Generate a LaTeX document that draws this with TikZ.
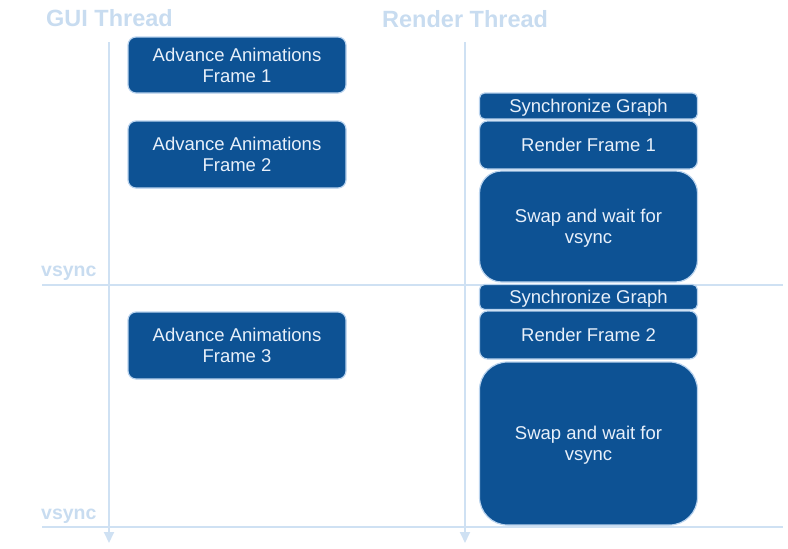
\documentclass[tikz,border=0pt]{standalone}
\usepackage{fontspec}
\setmainfont{Liberation Sans}
\usetikzlibrary{arrows.meta}
\definecolor{boxfill}{RGB}{13,82,148}
\definecolor{boxedge}{RGB}{185,211,238}
\definecolor{boxtext}{RGB}{232,240,250}
\definecolor{axiscol}{RGB}{207,225,243}
\definecolor{headcol}{RGB}{200,220,240}
\tikzset{
  task/.style={draw=boxedge, line width=1.2pt, fill=boxfill, text=boxtext,
    rounded corners=8pt, inner sep=0pt, outer sep=0pt, align=center,
    font=\fontsize{18.5}{21}\selectfont, minimum width=218pt, text depth=0pt},
  axis/.style={draw=axiscol, line width=2pt},
  timeline/.style={axis, -{Triangle[width=10pt,length=11pt]}},
  header/.style={text=headcol, font=\bfseries\fontsize{23.5}{26}\selectfont, anchor=base west, inner sep=0pt},
  vlabel/.style={text=headcol, font=\bfseries\fontsize{19.5}{22}\selectfont, anchor=base west, inner sep=0pt}
}
\begin{document}
\begin{tikzpicture}[x=1pt,y=-1pt]
\useasboundingbox (0,0) rectangle (788,549);
% headers
\node[header] (guihead) at (46,26) {GUI Thread};
\node[header] (renderhead) at (382,27.5) {Render Thread};
% vsync labels
\node[vlabel] (vs1) at (41,276) {vsync};
\node[vlabel] (vs2) at (41,519) {vsync};
% horizontal vsync lines
\coordinate (h1l) at (42,285); \coordinate (h1r) at (783,285);
\coordinate (h2l) at (42,527); \coordinate (h2r) at (783,527);
\draw[axis] (h1l) -- (h1r);
\draw[axis] (h2l) -- (h2r);
% vertical timelines
\coordinate (guitop) at (109,42); \coordinate (guibot) at (109,543);
\coordinate (rtop) at (465,42); \coordinate (rbot) at (465,543);
\draw[timeline] (guitop) -- (guibot);
\draw[timeline] (rtop) -- (rbot);
% GUI thread tasks
\node[task, minimum height=56pt] (a1) at (237,65) {Advance Animations\\Frame 1};
\node[task, minimum height=67pt] (a2) at (237,154.5) {Advance Animations\\Frame 2};
\node[task, minimum height=67pt] (a3) at (237,345.5) {Advance Animations\\Frame 3};
% Render thread tasks
\node[task, rounded corners=5pt, minimum height=26pt] (s1) at (588.5,106) {Synchronize Graph};
\node[task, minimum height=48pt] (r1) at (588.5,145) {Render Frame 1};
\node[task, rounded corners=22pt, minimum height=111pt] (w1) at (588.5,226.5) {Swap and wait for\\vsync};
\node[task, rounded corners=5pt, minimum height=25pt] (s2) at (588.5,297) {Synchronize Graph};
\node[task, minimum height=48pt] (r2) at (588.5,335) {Render Frame 2};
\node[task, rounded corners=28pt, minimum height=163pt] (w2) at (588.5,443.5) {Swap and wait for\\vsync};
\end{tikzpicture}
\end{document}
